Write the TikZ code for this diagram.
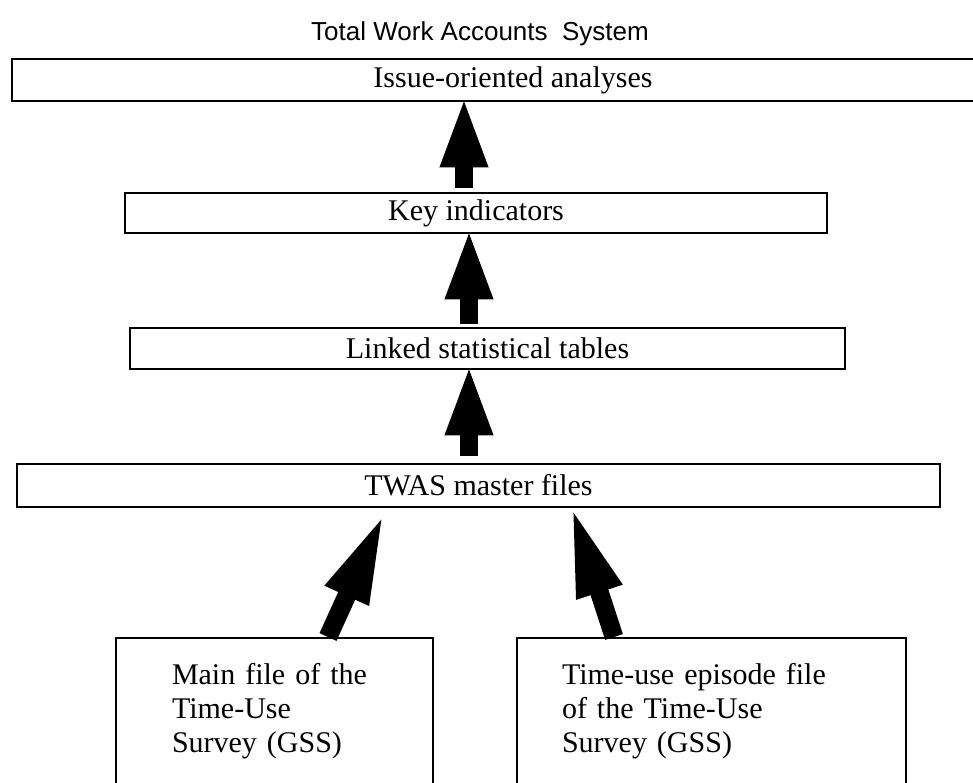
\documentclass[tikz,border=0pt]{standalone}
\usepackage{fontspec}
\setmainfont{Liberation Serif}
\newfontfamily\titlefont{Liberation Sans}
\usepackage{tikz}
\usetikzlibrary{arrows.meta,calc}

\begin{document}
\begin{tikzpicture}[x=0.75pt,y=-0.75pt,
   bar/.style={draw,line width=1.7pt,inner sep=0pt,font=\fontsize{22.5}{26}\selectfont},
   filebox/.style={draw,line width=1.7pt,anchor=north,align=left,inner ysep=19pt,text depth=110pt,font=\fontsize{22.5}{25.5}\selectfont},
   fatarrow/.style={line width=13.5pt,shorten >=-5pt,-{Triangle[length=54pt,width=32pt]}},
   slantarrow/.style={line width=14pt,shorten >=-5pt,-{Triangle[length=69pt,width=32pt]}}]
   \useasboundingbox (0,0) rectangle (973,782);
   \clip (0,0) rectangle (973,782);

   \node[font=\titlefont\fontsize{19.5}{23}\selectfont] (title) at (480,34) {Total Work Accounts~~System};
   \node[bar,minimum width=751.5pt,minimum height=31.5pt] (issue) at (513,80) {Issue-oriented analyses};
   \node[bar,minimum width=526.5pt,minimum height=30pt] (key) at (476,213) {Key indicators};
   \node[bar,minimum width=536.25pt,minimum height=30.75pt] (linked) at (487.5,348.5) {Linked statistical tables};
   \node[bar,minimum width=692.25pt,minimum height=32.25pt] (twas) at (478.5,485.5) {TWAS master files};
   \node[filebox,inner xsep=42pt,text width=153.75pt] (mainfile) at (274.5,637)
      {Main file of the\\Time-Use\\Survey (GSS)};
   \node[filebox,inner xsep=33.75pt,text width=224.25pt] (episode) at (711.5,637)
      {Time-use episode file\\of the Time-Use\\Survey (GSS)};

   \draw[fatarrow,shorten <=3pt] (key.north -| 464,0) -- (issue.south -| 464,0);
   \draw[fatarrow,shorten <=2pt] (linked.north -| 469,0) -- (key.south -| 469,0);
   \draw[fatarrow,shorten <=5pt] (twas.north -| 469,0) -- (linked.south -| 469,0);
   \draw[slantarrow] (mainfile.north -| 328,0) -- ($(twas.south -| 382,0)+(0,10)$);
   \draw[slantarrow] (episode.north -| 614,0) -- ($(twas.south -| 573,0)+(0,3)$);
\end{tikzpicture}
\end{document}
